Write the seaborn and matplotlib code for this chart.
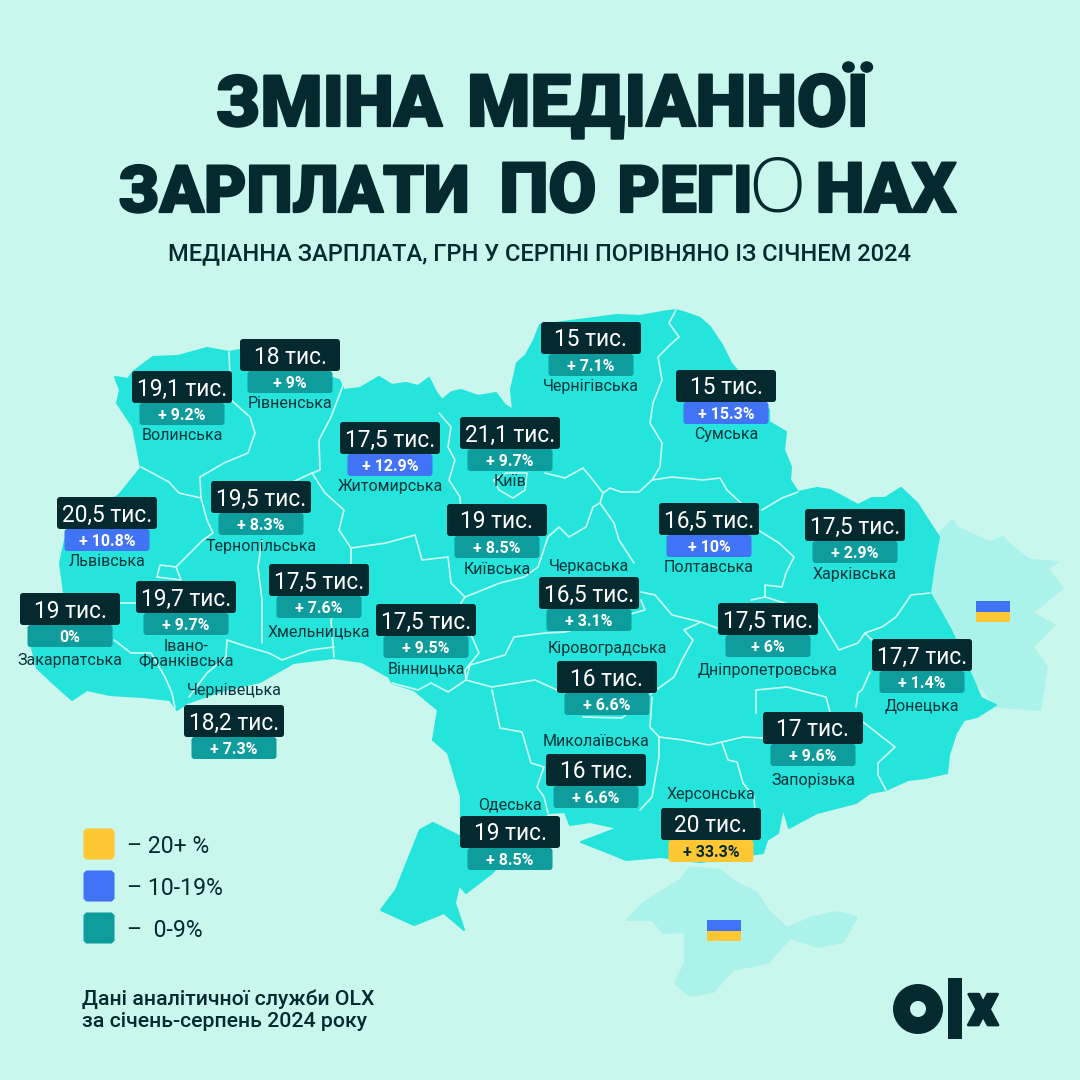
import matplotlib
matplotlib.use("Agg")
import matplotlib.pyplot as plt
import matplotlib.patheffects as pe
from matplotlib.patches import FancyBboxPatch, Polygon, Rectangle, Circle
from matplotlib.path import Path
import pandas as pd
import seaborn as sns

# ---------- data ----------
regions = ["Рівненська", "Волинська", "Чернігівська", "Сумська", "Житомирська", "Київ",
           "Львівська", "Тернопільська", "Київська", "Полтавська", "Харківська", "Хмельницька",
           "Черкаська", "Вінницька", "Закарпатська", "Івано-\nФранківська", "Дніпропетровська",
           "Кіровоградська", "Донецька", "Чернівецька", "Запорізька", "Миколаївська",
           "Одеська", "Херсонська"]
salary_k = ["18", "19,1", "15", "15", "17,5", "21,1", "20,5", "19,5", "19", "16,5", "17,5", "17,5",
            "16,5", "17,5", "19", "19,7", "17,5", "16", "17,7", "18,2", "17", "16", "19", "20"]
change_pct = [9, 9.2, 7.1, 15.3, 12.9, 9.7, 10.8, 8.3, 8.5, 10, 2.9, 7.6,
              3.1, 9.5, 0, 9.7, 6, 6.6, 1.4, 7.3, 9.6, 6.6, 8.5, 33.3]
legend_labels = ["– 20+ %", "– 10-19%", "–  0-9%"]
band_names = ["20+", "10-19", "0-9"]

# ---------- layout (pixels) ----------
BG, MAP, OCC, DARK = "#C9F7EE", "#24E4DC", "#ABF3EA", "#04292F"
LINE = "#CDFBF2"
band_colors = {"20+": "#FFC733", "10-19": "#4173F6", "0-9": "#0E9C9C"}
sns.set_theme(style="white", rc={"figure.facecolor": BG, "axes.facecolor": BG})
FONT = ["Roboto", "DejaVu Sans"]
plt.rcParams["font.family"] = FONT

badge_xy = [(240, 339), (132, 371), (541, 322), (676, 370), (340, 422), (460, 417),
            (57, 497), (211, 481), (447, 504), (659, 503), (805, 509), (269, 564),
            (539, 577), (376, 604), (20, 593), (136, 581), (718, 603),
            (557, 661), (872, 639), (184, 705), (763, 712), (546, 754),
            (460, 816), (661, 808)]
label_y = [404, 436, 387, 434, 487, 482, 562, 546, 569, 568, 574, 632,
           567, 669, 660, 654, 671, 649, 707, 691, 780, 741, 805, 794]

outline = [(115, 377), (128, 379), (133, 372), (153, 357), (178, 356), (207, 348), (229, 352), (240, 350),
           (339, 380), (344, 390), (360, 388), (379, 377), (392, 385), (406, 383), (418, 386), (429, 378),
           (436, 392), (442, 400), (452, 392), (461, 390), (478, 396), (496, 393), (505, 405), (513, 410),
           (511, 390), (517, 363), (526, 355), (534, 340), (540, 325), (617, 315), (640, 316), (662, 312),
           (676, 310), (686, 313), (700, 318), (710, 327), (722, 345), (731, 363), (745, 380), (769, 410),
           (769, 422), (786, 432), (784, 450), (791, 467), (790, 480), (798, 492), (817, 488), (830, 490),
           (845, 498), (858, 505), (872, 498), (885, 498), (901, 488), (917, 503), (928, 520), (939, 537),
           (934, 565), (930, 593), (951, 630), (972, 677), (981, 698), (996, 705), (977, 717), (964, 720),
           (956, 733), (949, 755), (947, 773), (925, 778), (908, 780), (886, 790), (870, 793), (856, 803),
           (817, 813), (800, 822), (789, 828), (783, 808), (778, 833), (767, 840), (763, 853), (700, 862),
           (661, 857), (626, 860), (609, 853), (581, 842), (618, 828), (590, 822), (570, 825), (565, 812),
           (548, 813), (520, 838), (492, 873), (466, 893), (459, 885), (455, 903), (464, 930), (444, 913),
           (414, 925), (381, 910), (396, 890), (420, 830), (433, 823), (461, 837), (461, 797), (448, 753),
           (433, 740), (438, 710), (414, 690), (392, 683), (389, 677), (362, 662), (334, 658), (293, 663),
           (290, 665), (260, 682), (225, 690), (187, 703), (177, 710), (170, 700), (143, 697), (110, 695),
           (87, 690), (72, 700), (53, 683), (37, 668), (30, 640), (64, 593), (60, 563), (65, 540), (80, 520),
           (119, 495), (141, 468), (133, 427), (117, 403), (120, 390)]
luhansk = [(940, 533), (952, 520), (958, 528), (990, 542), (1003, 537), (1013, 547), (1030, 560), (1058, 562),
           (1047, 568), (1063, 588), (1032, 613), (1055, 625), (1033, 647), (1047, 667), (1040, 710), (997, 707),
           (983, 690), (965, 677), (952, 628), (938, 617), (930, 590), (937, 550)]
crimea = [(690, 867), (720, 870), (737, 883), (757, 893), (768, 910), (787, 928), (813, 917), (837, 912),
          (857, 917), (843, 942), (818, 947), (790, 938), (768, 963), (733, 970), (713, 992), (690, 996),
          (675, 983), (685, 963), (685, 932), (663, 933), (653, 920), (627, 920), (643, 903), (680, 880)]
borders = [
    [(141, 467), (169, 482), (179, 493), (201, 498), (207, 520), (213, 533), (203, 540), (176, 567), (181, 580), (157, 577), (160, 565), (176, 567)],
    [(229, 352), (231, 400), (250, 417), (255, 433), (248, 453), (224, 463), (200, 477), (201, 498)],
    [(344, 383), (331, 417), (319, 440), (320, 470), (312, 473), (325, 493), (344, 510), (339, 530), (351, 548), (386, 543), (415, 535), (422, 560), (448, 557)],
    [(312, 473), (282, 487)],
    [(351, 548), (351, 563), (331, 620), (334, 657)],
    [(227, 640), (248, 647), (269, 653), (282, 660), (310, 650), (334, 647)],
    [(262, 540), (258, 567), (262, 600), (262, 643)],
    [(119, 603), (136, 603)],
    [(114, 640), (131, 653), (151, 653), (165, 677), (172, 693), (175, 708)],
    [(227, 640), (226, 657), (207, 673), (189, 697)],
    [(439, 413), (451, 427), (448, 447), (455, 460), (449, 480), (460, 497), (461, 513)],
    [(448, 557), (451, 583), (465, 597), (461, 603), (472, 637), (479, 653), (465, 670), (466, 680)],
    [(465, 597), (500, 583), (524, 577), (538, 567), (548, 537), (559, 527), (569, 537), (586, 527), (593, 507), (600, 503)],
    [(545, 473), (565, 478), (583, 468), (593, 480), (603, 493), (600, 503), (614, 523), (619, 540), (634, 563)],
    [(494, 480), (506, 473), (527, 473), (525, 490), (513, 498), (499, 490), (494, 480)],
    [(676, 310), (669, 323), (679, 337), (672, 343), (658, 357), (662, 380), (653, 403), (650, 423), (662, 443), (660, 467), (652, 480), (639, 492), (621, 492), (610, 488), (603, 493)],
    [(652, 480), (672, 477), (703, 480), (720, 478), (727, 490), (741, 503)],
    [(798, 492), (782, 498), (762, 510)],
    [(758, 530), (779, 543), (794, 557), (786, 573), (782, 587), (765, 585), (765, 597), (751, 600)],
    [(641, 592), (655, 595), (672, 615), (701, 622), (717, 628)],
    [(641, 600), (645, 610), (565, 632), (545, 633), (514, 637), (505, 655), (470, 665), (466, 680)],
    [(392, 683), (418, 690), (431, 683), (448, 692), (466, 680), (492, 687), (535, 680), (557, 690)],
    [(492, 690), (500, 728), (522, 732), (531, 763), (544, 767), (537, 787), (544, 797), (548, 813)],
    [(583, 717), (622, 718), (652, 693), (674, 677), (682, 660), (693, 640), (684, 630), (701, 622)],
    [(652, 697), (650, 727), (659, 737), (659, 757), (652, 797), (640, 810)],
    [(659, 737), (683, 740), (709, 745), (743, 737), (763, 738)],
    [(722, 743), (728, 760), (737, 762), (743, 783), (754, 797), (755, 812)],
    [(756, 713), (756, 690), (787, 687), (826, 697), (830, 712)],
    [(863, 722), (895, 747), (878, 763), (878, 775), (886, 790)],
    [(856, 707), (858, 693), (862, 690), (870, 672)],
    [(872, 640), (865, 633), (882, 627), (896, 617), (911, 595), (930, 593)],
    [(765, 597), (817, 613), (827, 630), (839, 650), (858, 643), (865, 633)],
]

# ---------- canvas ----------
fig = plt.figure(figsize=(10.8, 10.8), dpi=100, facecolor=BG)
ax = fig.add_axes([0, 0, 1, 1])
ax.set_xlim(0, 1080)
ax.set_ylim(1080, 0)
ax.axis("off")

# ---------- map ----------
ax.add_patch(Polygon(crimea, closed=True, fc=OCC, ec=OCC, lw=1.5, joinstyle="round", zorder=1))
ax.add_patch(Polygon(luhansk, closed=True, fc=OCC, ec=OCC, lw=1.5, joinstyle="round", zorder=1))
ax.add_patch(Polygon(outline, closed=True, fc=MAP, ec=MAP, lw=1.5, joinstyle="round", zorder=2))
for b in borders:
    ax.plot(*zip(*b), color=LINE, lw=1.2, solid_joinstyle="round", zorder=3)
for fx, fy in [(976, 601), (707, 920)]:
    ax.add_patch(Rectangle((fx, fy), 34, 10.5, fc=band_colors["10-19"], ec="none", zorder=3))
    ax.add_patch(Rectangle((fx, fy + 10.5), 34, 10.5, fc=band_colors["20+"], ec="none", zorder=3))


def box(x, y, w, h, color, z):
    ax.add_patch(FancyBboxPatch((x + 3, y + 3), w - 6, h - 6, boxstyle="round,pad=3,rounding_size=3",
                                fc=color, ec="none", zorder=z))


def band(v):
    return "20+" if v >= 20 else ("10-19" if v >= 10 else "0-9")


# ---------- badges ----------
for name, sal, chg, (x, y), ly in zip(regions, salary_k, change_pct, badge_xy, label_y):
    cx = x + 50
    box(x + 7.5, y + 32, 85, 22, band_colors[band(chg)], 5)
    box(x, y, 100, 32, DARK, 6)
    ax.text(cx, y + 24.5, f"{sal} тис.", color="white", fontsize=16.3, ha="center", va="baseline", zorder=7)
    txt = "0%" if chg == 0 else f"+ {chg:g}%"
    ax.text(cx, y + 49, txt, color=DARK if band(chg) == "20+" else "white", fontsize=11.5,
            fontweight="bold", ha="center", va="baseline", zorder=7)
    ax.text(cx, ly, name, color="#06343A", fontsize=11.5, ha="center", va="center",
            linespacing=1.0, zorder=4)

# ---------- legend ----------
leg = pd.DataFrame({"band": band_names, "x": [99, 99, 99], "y": [844, 886, 928]})
c = 1.0
k = 0.82
marker = Path([(-k, -c), (k, -c), (c, -k), (c, k), (k, c), (-k, c), (-c, k), (-c, -k), (-k, -c)], closed=True)
sns.scatterplot(data=leg, x="x", y="y", hue="band", palette=band_colors, marker=marker, s=500,
                linewidth=0, legend=False, ax=ax, zorder=4)
ax.set_xlim(0, 1080)
ax.set_ylim(1080, 0)
ax.axis("off")
for t, yy in zip(legend_labels, [853, 895, 937]):
    ax.text(127, yy, t, color=DARK, fontsize=16.6, ha="left", va="baseline", zorder=4)

# ---------- title ----------
stroke = [pe.withStroke(linewidth=1.6, foreground=DARK)]
for word, cx, by, fs in [("ЗМІНА", 329, 126, 51), ("МЕДІАННОЇ", 668, 126, 52), ("ЗАРПЛАТИ", 294, 212, 47),
                         ("ПО", 548, 212, 50), ("РЕГІ", 685, 212, 47), ("НАХ", 886, 212, 50)]:
    ax.text(cx, by, word, color=DARK, fontsize=fs, fontweight="black", ha="center", va="baseline",
            path_effects=stroke, zorder=4)
ax.text(777, 212, "О", color=DARK, fontsize=54, fontweight="light", family=["Open Sans", "DejaVu Sans"],
        ha="center", va="baseline", zorder=4)
ax.text(540, 260, "МЕДІАННА ЗАРПЛАТА, ГРН У СЕРПНІ ПОРІВНЯНО ІЗ СІЧНЕМ 2024", color=DARK, fontsize=17,
        fontweight="medium", ha="center", va="baseline", zorder=4)

# ---------- source ----------
ax.text(82, 1005, "Дані аналітичної служби OLX", color=DARK, fontsize=15.3, fontweight="medium", va="baseline", zorder=4)
ax.text(82, 1027, "за січень-серпень 2024 року", color=DARK, fontsize=15.3, fontweight="medium", va="baseline", zorder=4)

# ---------- logo ----------
ax.add_patch(Circle((918, 1009), 16.5, fc="none", ec=DARK, lw=12.2, zorder=4))
ax.add_patch(Rectangle((948, 978), 14, 61, fc=DARK, ec="none", zorder=4))
ax.text(983, 1025, "x", color=DARK, fontsize=42, fontweight="black", ha="center", va="baseline",
        path_effects=[pe.withStroke(linewidth=2, foreground=DARK)], zorder=4)

fig.savefig("out.png", dpi=100, facecolor=BG)
